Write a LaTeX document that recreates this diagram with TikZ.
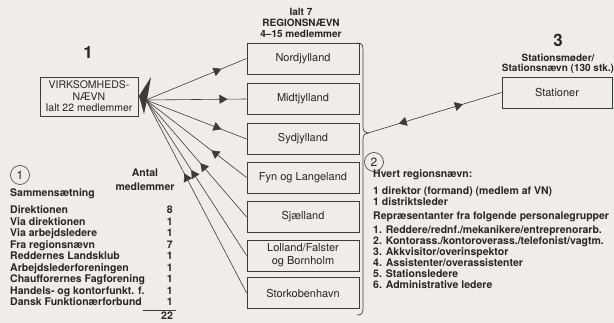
\documentclass[tikz,border=0pt]{standalone}
\usepackage{fontspec}
\setmainfont{TeX Gyre Heros}
\usetikzlibrary{arrows.meta,decorations.markings}
\definecolor{bg}{HTML}{EEEDE9}
\definecolor{ink}{HTML}{262626}
\definecolor{linec}{HTML}{3C3C3C}
\begin{document}
\begin{tikzpicture}[x=1pt,y=-1pt,
  every node/.style={text=ink, inner sep=0pt},
  region/.style={draw=linec, line width=0.8pt, minimum width=112pt, minimum height=31pt, font=\fontsize{11}{13}\selectfont, align=center},
  conn/.style={draw=linec, color=linec, line width=0.6pt},
  fwdat/.style={postaction={decorate, decoration={markings, mark=at position #1 with {\arrow{Triangle[length=8pt,width=9pt]}}}}},
  bwdat/.style={postaction={decorate, decoration={markings, mark=at position #1 with {\arrowreversed{Triangle[length=8pt,width=9pt]}}}}},
  bl/.style={font=\fontsize{10.5}{11.5}\selectfont\bfseries, text height=8pt, text depth=2pt},
  hdr/.style={font=\fontsize{10}{11}\selectfont\bfseries},
  big/.style={font=\fontsize{17}{17}\selectfont\bfseries},
  circ/.style={draw=linec, circle, minimum size=19pt, line width=0.6pt, font=\fontsize{12}{12}\selectfont}
]
\useasboundingbox (0,0) rectangle (614,323);
\fill[bg] (0,0) rectangle (614,323);

% headings
\node[hdr] (h1) at (301,12) {Ialt 7};
\node[hdr] (h2) at (301,23) {REGIONSNÆVN};
\node[hdr] (h3) at (301,34) {4–15 medlemmer};
\node[big] (one) at (88,52) {1};
\node[big] (three) at (558,40) {3};
\node[hdr] (st1) at (558,58) {Stationsmøder/};
\node[hdr] (st2) at (558,69) {Stationsnævn (130 stk.)};

% boxes
\node[region, minimum width=98pt, minimum height=39pt, font=\fontsize{10.5}{11.5}\selectfont] (vn) at (89,96.5) {VIRKSOMHEDS-\\NÆVN\\Ialt 22 medlemmer};
\node[region] (nord) at (303,58.5) {Nordjylland};
\node[region] (midt) at (303,99) {Midtjylland};
\node[region] (syd) at (303,139) {Sydjylland};
\node[region] (fyn) at (303,177.5) {Fyn og Langeland};
\node[region] (sjael) at (303,217) {Sjælland};
\node[region] (loll) at (303,255.5) {Lolland/Falster\\og Bornholm};
\node[region] (stork) at (303,293) {Storkobenhavn};
\node[region, minimum width=110pt] (stat) at (557,92.5) {Stationer};

% wedge and connectors
\fill[linec] (151,77) -- (139,96) -- (144,114) -- (147,100) -- cycle;
\coordinate (hub) at (146,100);
\draw[conn, fwdat=0.75] (hub) -- (nord.west);
\draw[conn, fwdat=0.81] (hub) -- (midt.west);
\draw[conn, fwdat=0.75] (hub) -- (syd.west);
\draw[conn, bwdat=0.65] (hub) -- (fyn.west);
\draw[conn, bwdat=0.54] (hub) -- (sjael.west);
\draw[conn, bwdat=0.45] (hub) -- (loll.west);
\draw[conn, bwdat=0.38] (hub) -- (stork.west);

% brace
\coordinate (bt) at (368,133);
\draw[conn, line width=0.7pt] (357,43) .. controls (362,43) and (363,45) .. (363,50) -- (363,127) .. controls (363,131) and (365,133) .. (bt) .. controls (365,133) and (363,135) .. (363,139) -- (363,308) .. controls (363,313) and (362,315) .. (357,315);
\draw[conn, bwdat=0.23, fwdat=0.71] (bt) -- (stat.west);

% left table
\node[circ] (c1) at (20,175) {1};
\node[bl] (ant1) at (145,174) {Antal};
\node[bl] (ant2) at (145,188) {medlemmer};
\node[bl, anchor=west] (samm) at (10,194) {Sammensætning};
\foreach \t/\v [count=\i from 0] in {{Direktionen}/8, {Via direktionen}/1, {Via arbejdsledere}/1, {Fra regionsnævn}/7, {Reddernes Landsklub}/1, {Arbejdslederforeningen}/1, {Chaufforernes Fagforening}/1, {Handels- og kontorfunkt. f.}/1, {Dansk Funktionærforbund}/1}{
  \node[bl, anchor=west] (r\i) at (10,{211+11.5*\i}) {\t};
  \node[bl, anchor=east] (v\i) at (173,{211+11.5*\i}) {\v};
}
\draw[linec, line width=0.7pt] (143,310) -- (176,310);
\node[bl] (tot) at (167,317) {22};

% right text
\node[circ] (c2) at (374,162) {2};
\foreach \t/\y [count=\i] in {{Hvert regionsnævn:}/175, {1 direktor (formand) (medlem af VN)}/192, {1 distriktsleder}/203, {Repræsentanter fra folgende personalegrupper}/217, {1. Reddere/rednf./mekanikere/entreprenorarb.}/231, {2. Kontorass./kontoroverass./telefonist/vagtm.}/242, {3. Akkvisitor/overinspektor}/253, {4. Assistenter/overassistenter}/264, {5. Stationsledere}/275, {6. Administrative ledere}/286}{
  \node[bl, anchor=west] (q\i) at (373,\y) {\t};
}
\end{tikzpicture}
\end{document}
